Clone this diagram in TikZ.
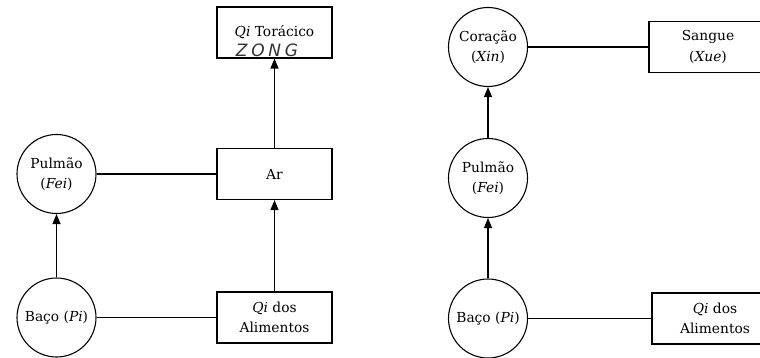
\documentclass[tikz,border=0pt]{standalone}
\usepackage{fontspec}
\setmainfont{DejaVu Serif}
\newfontfamily\maofont[LetterSpace=22.0]{DejaVu Sans}
\usetikzlibrary{arrows.meta}

\begin{document}
\begin{tikzpicture}[x=1pt, y=-1pt,
	orgao/.style = {draw, circle, minimum size=79pt, inner sep=0pt, align=center},
	caixa/.style = {draw, rectangle, minimum width=115pt, minimum height=51pt, inner sep=0pt, align=center},
	seta/.style = {-{Triangle[width=8pt, length=10pt]}},
	line width=1.1pt, font=\fontsize{13.8}{20.5}\selectfont]

	\useasboundingbox (0,0) rectangle (760,358);
	\clip (0,0) rectangle (760,358);

	% esquerda
	\node [caixa] (toracico) at (274.5,32.5) {\textit{Qi} Torácico};
	\node [font=\maofont\itshape\fontsize{17}{17}\selectfont, text=black!80] (zong) at (267,50) {ZONG};
	\node [caixa] (ar) at (274.5,174) {Ar};
	\node [caixa] (alimentos1) at (274.5,317.5) {\textit{Qi} dos\\Alimentos};
	\node [orgao] (pulmao1) at (56.5,174) {Pulmão\\(\textit{Fei})};
	\node [orgao] (baco1) at (56.5,317.5) {Baço (\textit{Pi})};

	% direita
	\node [orgao] (coracao) at (488,47) {Coração\\(\textit{Xin})};
	\node [caixa, minimum width=118pt] (sangue) at (708,47) {Sangue\\(\textit{Xue})};
	\node [orgao] (pulmao2) at (488,178) {Pulmão\\(\textit{Fei})};
	\node [orgao] (baco2) at (488,318.5) {Baço (\textit{Pi})};
	\node [caixa, minimum width=126pt] (alimentos2) at (715,318.5) {\textit{Qi} dos\\Alimentos};

	\draw (pulmao1) -- (ar);
	\draw (baco1) -- (alimentos1);
	\draw (coracao) -- (sangue);
	\draw (baco2) -- (alimentos2);

	\begin{scope}[seta]
		\draw (baco1) -- (pulmao1);
		\draw (alimentos1) -- (ar);
		\draw (ar) -- (toracico);
		\draw (baco2) -- (pulmao2);
		\draw (pulmao2) -- (coracao);
	\end{scope}
\end{tikzpicture}
\end{document}
